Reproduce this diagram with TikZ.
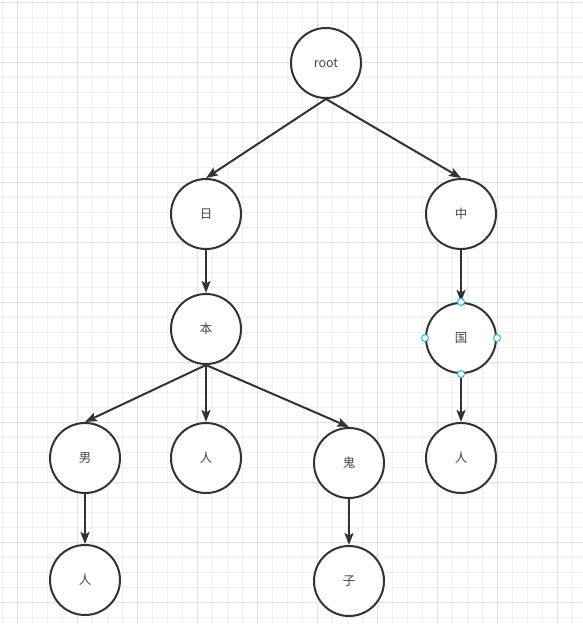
\documentclass[tikz,border=0pt]{standalone}
\usepackage{fontspec}
\setmainfont{Noto Sans CJK SC}
\usetikzlibrary{arrows.meta,positioning}
\tikzset{
	>={Stealth[length=12pt,width=9pt,inset=2.5pt]},
	nodes={align=center},
}
\definecolor{cline}{RGB}{51,51,51}
\definecolor{ctext}{RGB}{70,70,70}
\definecolor{cgrid}{RGB}{240,240,240}
\definecolor{cgridmajor}{RGB}{225,225,225}
\definecolor{chandle}{RGB}{41,182,242}

\begin{document}
\begin{tikzpicture}[x=1pt,y=-1pt,%
		trie/.style={draw=cline, circle, line width=2pt, minimum size=70pt, inner sep=0pt, fill=white, text=ctext, font=\fontsize{12.5}{14}\selectfont},%
		handle/.style={draw=chandle, circle, line width=1pt, minimum size=7pt, inner sep=0pt, fill=white},%
		link/.style={->, draw=cline, line width=2pt}]
	\useasboundingbox (0,0) rectangle (583,624);
	\fill[white] (0,0) rectangle (583,624);
	% grid
	\foreach \x in {2,17,...,587} \draw[cgrid, line width=1pt] (\x,0) -- (\x,624);
	\foreach \y in {2,17,...,624} \draw[cgrid, line width=1pt] (0,\y) -- (583,\y);
	\foreach \x in {17,77,...,587} \draw[cgridmajor, line width=1pt] (\x,0) -- (\x,624);
	\foreach \y in {2,62,...,624} \draw[cgridmajor, line width=1pt] (0,\y) -- (583,\y);

	\node[trie] (root) at (326,63) {root};

	\node[trie] (ri) at (206,214) {日};
	\node[trie] (zhong) at (461,214) {中};

	\node[trie] (ben) [below=43pt of ri] {本};
	\node[trie] (guo) at (461,338) {国};

	\node[trie] (nan) at (85,458) {男};
	\node[trie] (ren1) at (206,458) {人};
	\node[trie] (gui) at (349,463) {鬼};
	\node[trie] (ren2) at (461,458) {人};

	\node[trie] (ren3) [below=50pt of nan] {人};
	\node[trie] (zi) [below=46pt of gui] {子};

	\draw[link] (root.south) -- (ri.north);
	\draw[link] (root.south) -- (zhong.north);
	\draw[link] (ri) -- (ben);
	\draw[link] (zhong) -- (guo);
	\draw[link] (ben.south) -- (nan.north);
	\draw[link] (ben) -- (ren1);
	\draw[link] (ben.south) -- (gui.north);
	\draw[link] (guo) -- (ren2);
	\draw[link] (nan) -- (ren3);
	\draw[link] (gui) -- (zi);

	% selection handles
	\node[handle] (gn) at (guo.north) {};
	\node[handle] (gs) at (guo.south) {};
	\node[handle] (gw) at (guo.west) {};
	\node[handle] (ge) at (guo.east) {};
\end{tikzpicture}
\end{document}
